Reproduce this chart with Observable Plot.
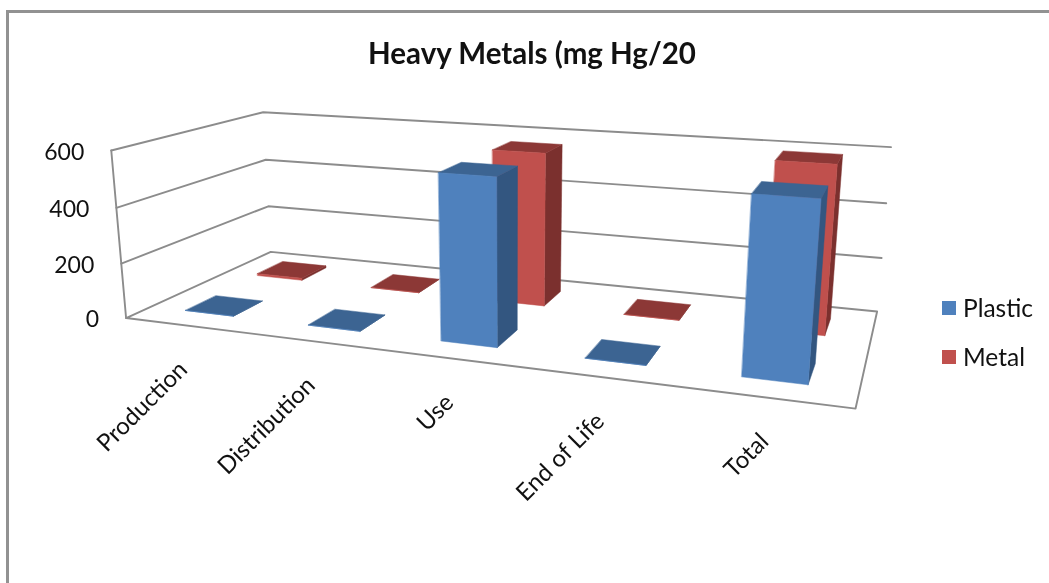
<!DOCTYPE html>
<html><head><meta charset="utf-8">
<script src="https://cdn.jsdelivr.net/npm/d3@7"></script>
<script src="https://cdn.jsdelivr.net/npm/@observablehq/plot@0.6"></script>
<style>
html,body{margin:0;padding:0;background:#fff;}
#wrap{position:relative;width:1049px;height:583px;overflow:hidden;font-family:Lato,sans-serif;color:#111;filter:blur(0.35px);}
#frame{position:absolute;left:6px;top:10px;right:-4px;bottom:-4px;border:3px solid #929292;}
#title{position:absolute;left:368px;top:35px;font-weight:700;font-size:29.5px;line-height:36px;white-space:nowrap;}
.lg{position:absolute;left:942px;height:28px;font-size:24.5px;line-height:28px;white-space:nowrap;}
.lg i{position:absolute;left:0;top:7px;width:14px;height:14px;}
.lg span{position:absolute;left:21px;top:0;}
svg{position:absolute;left:0;top:0;}
</style></head><body>
<div id="wrap"><div id="frame"></div><div id="title">Heavy Metals (mg Hg/20</div></div>
<script>
const categories = ["Production","Distribution","Use","End of Life","Total"];
const seriesNames = ["Plastic","Metal"];
const plastic = [0,0,572,0,575];
const metal = [8,0,566,0,590];
const yTicks = [0,200,400,600];
const colors = {Plastic:{front:"#4f81bd",side:"#335680",top:"#3c6492"},Metal:{front:"#c0504d",side:"#7b302e",top:"#8c3836"}};

// Perspective camera fitted to the chart's box: [u,v,value] -> screen
const box = [[0,0,0,125,318],[0,0,200,122,263],[0,0,400,116,207],[0,0,600,110,150],
 [0,1,0,270,251],[0,1,200,268,206],[0,1,400,265,159],[0,1,600,263,112],
 [1,1,0,876,311],[1,1,200,882,258],[1,1,400,886,202],[1,1,600,890,147],[1,0,0,855,408]];
function solve(A,b){const n=b.length;const M=A.map((r,i)=>[...r,b[i]]);
 for(let c=0;c<n;c++){let p=c;for(let r=c+1;r<n;r++)if(Math.abs(M[r][c])>Math.abs(M[p][c]))p=r;
  [M[c],M[p]]=[M[p],M[c]];
  for(let r=0;r<n;r++)if(r!==c){const f=M[r][c]/M[c][c];for(let k=c;k<=n;k++)M[r][k]-=f*M[c][k];}}
 return M.map((r,i)=>r[n]/r[i]);}
const P=(()=>{const rows=[],rhs=[];
 for(const [u,v,val,sx,sy] of box){const w=val/600,x=sx/1000,y=sy/1000;
  rows.push([u,v,w,1,0,0,0,0,-x*u,-x*v,-x*w]);rhs.push(x);
  rows.push([0,0,0,0,u,v,w,1,-y*u,-y*v,-y*w]);rhs.push(y);}
 const n=11;const A=d3.range(n).map(i=>d3.range(n).map(j=>d3.sum(rows,r=>r[i]*r[j])));
 const b=d3.range(n).map(i=>d3.sum(rows,(r,k)=>r[i]*rhs[k]));
 return solve(A,b);})();
function project(u,v,val){const w=val/600,d=P[8]*u+P[9]*v+P[10]*w+1;
 return [1000*(P[0]*u+P[1]*v+P[2]*w+P[3])/d,1000*(P[4]*u+P[5]*v+P[6]*w+P[7])/d];}

const catW=1/categories.length, barW=catW*0.4, rowD=0.5, barD=rowD*0.4;
const faces=[];
function addBar(name,row,i,val){
 const c=colors[name];const u0=(i+.5)*catW-barW/2-0.002+0.0005*i,u1=u0+barW;
 const vc=(row+.5)*rowD,v0=vc-barD/2,v1=vc+barD/2;
 const face=(id,col,pts)=>pts.forEach(p=>{const [x,y]=project(...p);faces.push({id:`${name}-${i}-${id}`,col,x,y});});
 face("side",c.side,[[u1,v0,0],[u1,v1,0],[u1,v1,val],[u1,v0,val]]);
 face("top",c.top,[[u0,v0,val],[u1,v0,val],[u1,v1,val],[u0,v1,val]]);
 face("front",c.front,[[u0,v0,0],[u1,v0,0],[u1,v0,val],[u0,v0,val]]);
}
metal.forEach((val,i)=>addBar("Metal",1,i,val));
plastic.forEach((val,i)=>addBar("Plastic",0,i,val));

const wallLines=[];
yTicks.slice(1).forEach(t=>[[0,0],[0,1],[1,1]].forEach(([u,v])=>{const [x,y]=project(u,v,t);wallLines.push({id:"g"+t,x,y});}));
[[0,0,0],[0,1,0],[1,1,0],[1,0,0],[0,0,0]].forEach(p=>{const [x,y]=project(...p);wallLines.push({id:"floor",x,y});});
[[0,0,0],[0,0,600]].forEach(p=>{const [x,y]=project(...p);wallLines.push({id:"axis",x,y});});

const yLabels=yTicks.map(t=>{const [x,y]=project(0,0,t);return {t,x,y};});
const xLabels=categories.map((c,i)=>{const [x,y]=project((i+.5)*catW,0,0);return {c,x,y};});

const chart=Plot.plot({
 width:1049,height:583,margin:0,
 x:{domain:[0,1049],range:[0,1049],axis:null},
 y:{domain:[0,583],range:[0,583],axis:null},
 color:{type:"identity"},
 style:{background:"transparent",overflow:"visible"},
 marks:[
  Plot.line(wallLines,{x:"x",y:"y",z:"id",stroke:"#8c8c8c",strokeWidth:1.9}),
  Plot.line(faces,{x:"x",y:"y",z:"id",fill:"col",stroke:"col",strokeWidth:.5,curve:"linear-closed"}),
  Plot.text(yLabels,{x:"x",y:"y",text:d=>String(d.t),dx:-27,dy:2,textAnchor:"end",fontSize:23,fontFamily:"Lato",fill:"#111"}),
  Plot.text(xLabels,{x:"x",y:"y",text:"c",dx:-3,dy:40,rotate:-45,textAnchor:"end",fontSize:24,fontFamily:"Lato",fill:"#111"})
 ]});
const wrap=document.getElementById("wrap");
wrap.appendChild(chart);
seriesNames.forEach((n,i)=>{const d=document.createElement("div");d.className="lg";d.style.top=(294+48.5*i)+"px";
 d.innerHTML=`<i style="background:${colors[n].front}"></i><span>${n}</span>`;wrap.appendChild(d);});
</script></body></html>
